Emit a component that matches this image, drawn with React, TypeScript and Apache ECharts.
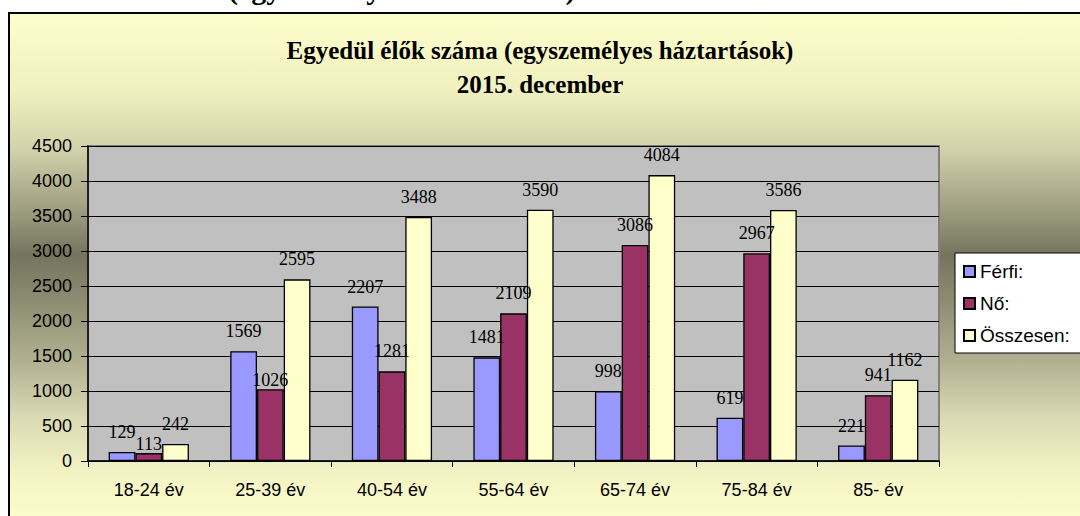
import React, { useEffect, useRef } from "react";
import * as echarts from "echarts";

const categories = ["18-24 év", "25-39 év", "40-54 év", "55-64 év", "65-74 év", "75-84 év", "85- év"];
const seriesNames = ["Férfi:", "Nő:", "Összesen:"];
const ferfi = [129, 1569, 2207, 1481, 998, 619, 221];
const no = [113, 1026, 1281, 2109, 3086, 2967, 941];
const osszesen = [242, 2595, 3488, 3590, 4084, 3586, 1162];
const yTicks = { min: 0, max: 4500, interval: 500 };

const titleLines = ["Egyedül élők száma (egyszemélyes háztartások)", "2015. december"];
const cutTitle = "(egyszemélyes háztartások)";

const colors = ["#9999FF", "#993366", "#FFFFCC"];

export default function App() {
  const ref = useRef<HTMLDivElement>(null);
  useEffect(() => {
    document.body.style.margin = "0";
    if (!ref.current) return;
    const chart = echarts.init(ref.current, undefined, { renderer: "svg" });
    // labels that Excel placed closer to the bar top
    const lowLabels: Record<string, boolean> = { "1-0": true, "1-1": true };
    const values = [ferfi, no, osszesen];
    const series = values.map((arr, si) => ({
      name: seriesNames[si],
      type: "bar",
      barGap: "0%",
      barCategoryGap: "34%",
      itemStyle: { color: colors[si], borderColor: "#000", borderWidth: 1.3 },
      label: {
        show: true,
        position: "top",
        distance: 11,
        color: "#000",
        fontFamily: "Liberation Serif",
        fontSize: 18,
      },
      data: arr.map((v, ci) =>
        lowLabels[`${si}-${ci}`] ? { value: v, label: { distance: 0 } } : v
      ),
    }));
    const titleStyle = {
      fontFamily: "Liberation Serif",
      fontWeight: "bold",
      fontSize: 25,
      lineHeight: 25,
      color: "#000",
    };
    chart.setOption({
      animation: false,
      graphic: [
        {
          type: "text",
          left: 228,
          top: -27,
          z: 5,
          style: {
            text: cutTitle,
            font: "bold 30px 'Liberation Serif'",
            fill: "#000",
          },
        },
        {
          type: "rect",
          z: -10,
          shape: { x: 9, y: 13, width: 1200, height: 700 },
          style: {
            stroke: "#000",
            lineWidth: 2,
            fill: {
              type: "linear",
              x: 0,
              y: 13,
              x2: 0,
              y2: 516,
              global: true,
              colorStops: [
                { offset: 0, color: "#FEFECB" },
                { offset: 0.153, color: "#F0F0C0" },
                { offset: 0.264, color: "#D4D4AC" },
                { offset: 0.372, color: "#A6A688" },
                { offset: 0.481, color: "#75755E" },
                { offset: 0.571, color: "#8C8C72" },
                { offset: 0.69, color: "#B0B090" },
                { offset: 0.805, color: "#DADAB4" },
                { offset: 0.909, color: "#F2F2C4" },
                { offset: 1, color: "#FCFCCA" },
              ],
            },
          },
        },
      ],
      title: [
        { text: titleLines[0], left: "center", top: 38, padding: 0, textStyle: titleStyle },
        { text: titleLines[1], left: "center", top: 72, padding: 0, textStyle: titleStyle },
      ],
      legend: {
        orient: "vertical",
        left: 955,
        top: 253,
        backgroundColor: "#fff",
        borderColor: "#000",
        borderWidth: 1,
        borderRadius: 0,
        padding: [9, 60, 8, 8],
        itemGap: 13,
        itemWidth: 11,
        itemHeight: 11,
        icon: "rect",
        textStyle: { fontFamily: "Liberation Sans", fontSize: 19, color: "#000" },
        data: seriesNames,
      },
      grid: {
        left: 88,
        top: 146,
        width: 851,
        height: 315,
        show: true,
        backgroundColor: "#C0C0C0",
        borderColor: "#808080",
        borderWidth: 2,
      },
      xAxis: {
        type: "category",
        data: categories,
        axisLine: { lineStyle: { color: "#000", width: 1.5 } },
        axisTick: { show: true, length: 6, lineStyle: { color: "#000" } },
        axisLabel: {
          margin: 20,
          color: "#000",
          fontFamily: "Liberation Sans",
          fontSize: 18,
        },
      },
      yAxis: {
        type: "value",
        min: yTicks.min,
        max: yTicks.max,
        interval: yTicks.interval,
        axisLine: { show: true, lineStyle: { color: "#000", width: 1.5 } },
        axisTick: { show: true, length: 7, lineStyle: { color: "#000" } },
        splitLine: { show: true, lineStyle: { color: "#000", width: 1.2 } },
        axisLabel: {
          margin: 16,
          color: "#000",
          fontFamily: "Liberation Sans",
          fontSize: 18,
          formatter: (v: number) => String(v),
        },
      },
      series,
    });
    return () => chart.dispose();
  }, []);
  return <div ref={ref} style={{ width: 1080, height: 516 }} />;
}
